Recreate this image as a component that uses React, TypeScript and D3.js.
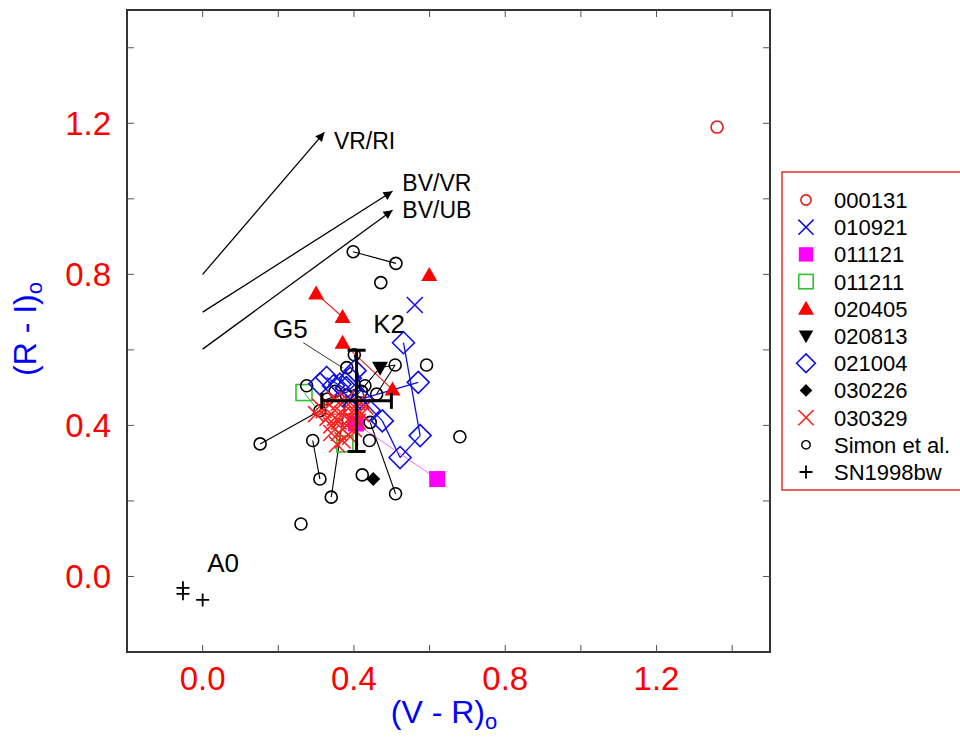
import React from "react";
import * as d3 from "d3";

type P = [number, number];

// ---------- data ----------
const xTicks = [0.0, 0.4, 0.8, 1.2];
const yTicks = [0.0, 0.4, 0.8, 1.2];
const minorTicks = [-0.2, 0, 0.2, 0.4, 0.6, 0.8, 1.0, 1.2, 1.4];

const s000131: P[] = [[1.36, 1.19]];
const s010921: P[] = [[0.561, 0.719], [0.39, 0.47]];
const s011121: P[] = [[0.62, 0.258], [0.405, 0.405]];
const s011121Links: [number, number][] = [[0, 1]];
const s011211: P[] = [[0.268, 0.487], [0.376, 0.351]];
const s011211Links: [number, number][] = [[0, 1]];
const s020405: P[] = [[0.30, 0.749], [0.37, 0.687], [0.599, 0.798], [0.37, 0.619], [0.502, 0.495]];
const s020405Links: [number, number][] = [[0, 1], [3, 4]];
const s020813: P[] = [[0.469, 0.553]];
const s021004: P[] = [
  [0.531, 0.619], [0.570, 0.514], [0.575, 0.373], [0.522, 0.315], [0.475, 0.412],
  [0.403, 0.545], [0.363, 0.509], [0.328, 0.527], [0.346, 0.505], [0.38, 0.50],
  [0.42, 0.47], [0.44, 0.44], [0.39, 0.525], [0.31, 0.51],
];
const s021004Links: [number, number][] = [[0, 2], [2, 3], [3, 4], [4, 10], [1, 10], [7, 10], [5, 11]];
const s030226: P[] = [[0.451, 0.258]];
const s030329: P[] = [
  [0.30, 0.43], [0.31, 0.45], [0.33, 0.42], [0.34, 0.40], [0.35, 0.44], [0.36, 0.41],
  [0.36, 0.38], [0.37, 0.43], [0.38, 0.40], [0.38, 0.45], [0.39, 0.42], [0.40, 0.39],
  [0.40, 0.44], [0.41, 0.41], [0.42, 0.43], [0.33, 0.46], [0.35, 0.47], [0.37, 0.36],
  [0.355, 0.35], [0.39, 0.37], [0.34, 0.38], [0.41, 0.46], [0.43, 0.45], [0.32, 0.44],
  [0.38, 0.47], [0.36, 0.46], [0.35, 0.42], [0.37, 0.39],
];
const s030329Links: [number, number][] = [[0, 14], [3, 12], [24, 22]];
const simon: P[] = [
  [0.398, 0.860], [0.511, 0.829], [0.471, 0.778], [0.509, 0.560], [0.592, 0.560],
  [0.401, 0.587], [0.381, 0.553], [0.429, 0.505], [0.460, 0.483], [0.275, 0.505],
  [0.310, 0.439], [0.152, 0.351], [0.291, 0.360], [0.310, 0.258], [0.340, 0.210],
  [0.260, 0.139], [0.422, 0.269], [0.510, 0.219], [0.441, 0.360], [0.443, 0.408],
  [0.680, 0.370], [0.35, 0.49], [0.38, 0.48], [0.42, 0.49], [0.33, 0.47],
];
const simonLinks: [number, number][] = [
  [0, 1], [10, 11], [12, 13], [14, 22], [17, 19], [6, 21], [7, 24], [3, 8], [5, 23],
];
const sn1998bw: P[] = [[-0.052, -0.030], [-0.052, -0.046], [0.0, -0.062]];
const meanPoint: P[] = [[0.407, 0.465]];
const meanErrX = [0.092];
const meanErrY = [0.134];
const link020813: P[][] = [[[0.469, 0.553], [0.509, 0.560]], [[0.469, 0.553], [0.429, 0.505]], [[0.469, 0.553], [0.40, 0.47]]];

const arrowNames = ["VR/RI", "BV/VR", "BV/UB"];
const arrowFrom: P[] = [[0.0, 0.80], [0.0, 0.70], [0.0, 0.602]];
const arrowTo: P[] = [[0.322, 1.176], [0.502, 1.02], [0.502, 0.97]];
const arrowLabelAt: P[] = [[0.347, 1.132], [0.528, 1.021], [0.528, 0.949]];

const starNames = ["G5", "K2", "A0"];
const starLabelAt: P[] = [[0.186, 0.632], [0.451, 0.646], [0.012, 0.012]];
const g5Pointer: P[] = [[0.266, 0.619], [0.371, 0.552]];

const legendNames = ["000131", "010921", "011121", "011211", "020405", "020813", "021004", "030226", "030329", "Simon et al.", "SN1998bw"];

// ---------- layout ----------
const W = 960, H = 740;
const L = 127, R = 770, T = 10, B = 652;
const FONT = "'Liberation Sans', Arial, Helvetica, sans-serif";

const x = d3.scaleLinear().domain([-0.2, 1.5]).range([L, R]);
const y = d3.scaleLinear().domain([-0.2, 1.5]).range([B, T]);

type Kind = "circle" | "x" | "fsquare" | "osquare" | "tri" | "dtri" | "diamond" | "fdiamond" | "smallcircle" | "plus";

function Marker({ kind, cx, cy, color, s = 1 }: { kind: Kind; cx: number; cy: number; color: string; s?: number }) {
  const t = `translate(${cx},${cy})`;
  switch (kind) {
    case "circle":
      return <circle transform={t} r={6 * s} fill="none" stroke={color} strokeWidth={1.6} />;
    case "smallcircle":
      return <circle transform={t} r={6 * s} fill="none" stroke={color} strokeWidth={1.4} />;
    case "x": {
      const h = 8 * s;
      return <path transform={t} d={`M${-h},${-h}L${h},${h}M${-h},${h}L${h},${-h}`} stroke={color} strokeWidth={1.6} fill="none" />;
    }
    case "fsquare": {
      const h = 8 * s;
      return <rect transform={t} x={-h} y={-h} width={2 * h} height={2 * h} fill={color} />;
    }
    case "osquare": {
      const h = 8 * s;
      return <rect transform={t} x={-h} y={-h} width={2 * h} height={2 * h} fill="none" stroke={color} strokeWidth={1.6} />;
    }
    case "tri": {
      const h = 8 * s;
      return <path transform={t} d={`M0,${-h}L${h},${h * 0.75}L${-h},${h * 0.75}Z`} fill={color} />;
    }
    case "dtri": {
      const h = 8 * s;
      return <path transform={t} d={`M0,${h}L${h},${-h * 0.75}L${-h},${-h * 0.75}Z`} fill={color} />;
    }
    case "diamond": {
      const h = 11 * s;
      return <path transform={t} d={`M0,${-h}L${h},0L0,${h}L${-h},0Z`} fill="none" stroke={color} strokeWidth={1.6} />;
    }
    case "fdiamond": {
      const h = 7 * s;
      return <path transform={t} d={`M0,${-h}L${h},0L0,${h}L${-h},0Z`} fill={color} />;
    }
    case "plus": {
      const h = 6.5 * s;
      return <path transform={t} d={`M${-h},0L${h},0M0,${-h}L0,${h}`} stroke={color} strokeWidth={1.8} fill="none" />;
    }
  }
  return null;
}

const legendKinds: Kind[] = ["circle", "x", "fsquare", "osquare", "tri", "dtri", "diamond", "fdiamond", "x", "smallcircle", "plus"];
const legendColors = ["#e02020", "#1010e0", "#ff00ff", "#30c030", "#ff0000", "#000000", "#1010e0", "#000000", "#ff2020", "#000000", "#000000"];
const legendScale = [0.85, 0.95, 0.9, 0.9, 1.0, 0.9, 0.85, 0.9, 0.95, 0.7, 1.0];

function Links({ pts, links, color, w = 1 }: { pts: P[]; links: [number, number][]; color: string; w?: number }) {
  return (
    <g>
      {links.map(([a, b], i) => (
        <line key={i} x1={x(pts[a][0])} y1={y(pts[a][1])} x2={x(pts[b][0])} y2={y(pts[b][1])} stroke={color} strokeWidth={w} />
      ))}
    </g>
  );
}

function Series({ pts, kind, color, s = 1 }: { pts: P[]; kind: Kind; color: string; s?: number }) {
  return (
    <g>
      {pts.map((p, i) => (
        <Marker key={i} kind={kind} cx={x(p[0])} cy={y(p[1])} color={color} s={s} />
      ))}
    </g>
  );
}

export default function App() {
  const ticks = minorTicks;
  return (
    <svg width={W} height={H} style={{ position: "absolute", left: 0, top: 0, background: "#fff" }} fontFamily={FONT}>
      <rect x={0} y={0} width={W} height={H} fill="#fff" />
      <defs>
        <marker id="ah" viewBox="0 0 10 10" refX="10" refY="5" markerWidth="16" markerHeight="9" markerUnits="userSpaceOnUse" orient="auto">
          <path d="M0,0L10,5L0,10Z" fill="#000" />
        </marker>
      </defs>

      {/* frame & ticks */}
      <rect x={L} y={T} width={R - L} height={B - T} fill="none" stroke="#333" strokeWidth={2} />
      {ticks.filter((v) => v > -0.2).map((v, i) => (
        <g key={i} stroke="#555" strokeWidth={1}>
          <line x1={x(v)} x2={x(v)} y1={B} y2={B - 7} />
          <line x1={x(v)} x2={x(v)} y1={T} y2={T + 7} />
          <line x1={L} x2={L + 7} y1={y(v)} y2={y(v)} />
          <line x1={R} x2={R - 7} y1={y(v)} y2={y(v)} />
        </g>
      ))}
      {xTicks.map((v, i) => (
        <text key={i} x={x(v)} y={690} fill="#ff0000" fontSize={33} textAnchor="middle">
          {v.toFixed(1)}
        </text>
      ))}
      {yTicks.map((v, i) => (
        <text key={i} x={111} y={y(v) + 12} fill="#ff0000" fontSize={33} textAnchor="end">
          {v.toFixed(1)}
        </text>
      ))}
      <text x={444} y={723} fill="#0000ff" fontSize={32} textAnchor="middle">
        (V - R)<tspan fontSize={22} dy={6}>o</tspan>
      </text>
      <text transform="translate(36,329) rotate(-90)" fill="#0000ff" fontSize={32} textAnchor="middle">
        (R - I)<tspan fontSize={22} dy={6}>o</tspan>
      </text>

      {/* arrows */}
      {arrowNames.map((n, i) => (
        <g key={n}>
          <line x1={x(arrowFrom[i][0])} y1={y(arrowFrom[i][1])} x2={x(arrowTo[i][0])} y2={y(arrowTo[i][1])} stroke="#000" strokeWidth={1.3} markerEnd="url(#ah)" />
          <text x={x(arrowLabelAt[i][0])} y={y(arrowLabelAt[i][1])} fontSize={23} fill="#000">{n}</text>
        </g>
      ))}
      {starNames.map((n, i) => (
        <text key={n} x={x(starLabelAt[i][0])} y={y(starLabelAt[i][1])} fontSize={26} fill="#000">{n}</text>
      ))}
      <line x1={x(g5Pointer[0][0])} y1={y(g5Pointer[0][1])} x2={x(g5Pointer[1][0])} y2={y(g5Pointer[1][1])} stroke="#000" strokeWidth={0.8} />

      {/* connecting lines */}
      <Links pts={simon} links={simonLinks} color="#000" w={1.1} />
      <Links pts={s021004} links={s021004Links} color="#1010e0" w={1.3} />
      <Links pts={s020405} links={s020405Links} color="#e02020" w={1.1} />
      <Links pts={s030329} links={s030329Links} color="#ff2020" w={1.1} />
      <Links pts={s011211} links={s011211Links} color="#30c030" w={1} />
      <Links pts={s011121} links={s011121Links} color="#ff66ff" w={1} />
      {link020813.map((seg, i) => (
        <line key={i} x1={x(seg[0][0])} y1={y(seg[0][1])} x2={x(seg[1][0])} y2={y(seg[1][1])} stroke="#000" strokeWidth={1} />
      ))}

      {/* series markers */}
      <Series pts={s011211} kind="osquare" color="#30c030" />
      <Series pts={s011121} kind="fsquare" color="#ff00ff" />
      <Series pts={simon} kind="circle" color="#000" />
      <Series pts={s021004} kind="diamond" color="#1010e0" />
      <Series pts={s030329} kind="x" color="#ff2020" />
      <Series pts={s020405} kind="tri" color="#ff0000" />
      <Series pts={s020813} kind="dtri" color="#000" />
      <Series pts={s010921} kind="x" color="#1010e0" />
      <Series pts={s030226} kind="fdiamond" color="#000" />
      <Series pts={s000131} kind="circle" color="#e02020" />
      <Series pts={sn1998bw} kind="plus" color="#000" />

      {/* mean point with error bars */}
      {meanPoint.map((p, i) => {
        const cx = x(p[0]), cy = y(p[1]);
        const x0 = x(p[0] - meanErrX[i]), x1 = x(p[0] + meanErrX[i]);
        const y0 = y(p[1] + meanErrY[i]), y1 = y(p[1] - meanErrY[i]);
        return (
          <g key={i} stroke="#000" strokeWidth={3}>
            <line x1={x0} x2={x1} y1={cy} y2={cy} />
            <line x1={cx} x2={cx} y1={y0} y2={y1} />
            <line x1={x0} x2={x0} y1={cy - 8} y2={cy + 8} />
            <line x1={x1} x2={x1} y1={cy - 8} y2={cy + 8} />
            <line x1={cx - 9} x2={cx + 9} y1={y0} y2={y0} />
            <line x1={cx - 9} x2={cx + 9} y1={y1} y2={y1} />
          </g>
        );
      })}

      {/* legend */}
      <rect x={782} y={172} width={200} height={318} fill="#fff" stroke="#e03030" strokeWidth={1.5} />
      {legendNames.map((n, i) => {
        const cy = 200 + i * 27.2;
        return (
          <g key={n}>
            <Marker kind={legendKinds[i]} cx={806} cy={cy} color={legendColors[i]} s={legendScale[i]} />
            <text x={834} y={cy + 8} fontSize={22} fill="#000">{n}</text>
          </g>
        );
      })}
    </svg>
  );
}
